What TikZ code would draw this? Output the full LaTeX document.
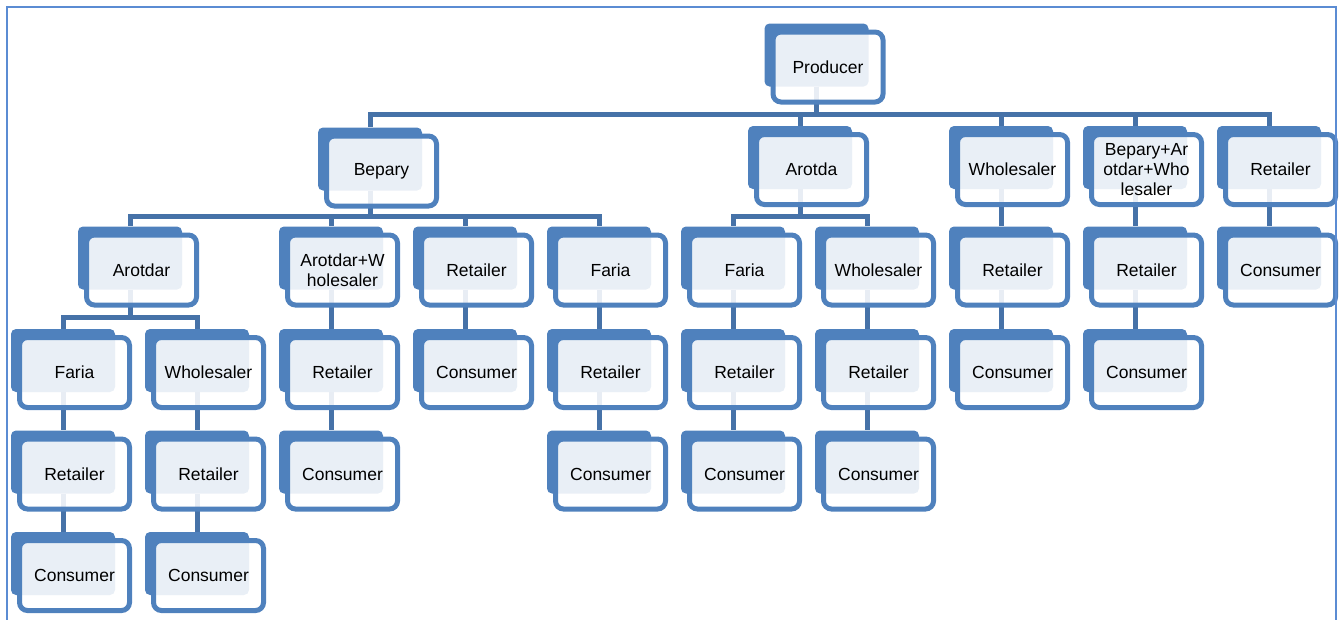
\documentclass[tikz,border=0pt]{standalone}
\usepackage{fontspec}
\setmainfont{Liberation Sans}
\pgfdeclarelayer{bg}
\pgfsetlayers{bg,main}
\definecolor{boxblue}{HTML}{4F81BD}
\definecolor{connblue}{HTML}{4672A8}
\definecolor{framecol}{HTML}{5B8CD3}
\tikzset{
  backbox/.style={fill=boxblue, rounded corners=5pt, minimum width=104pt, minimum height=63pt, inner sep=0pt, draw=none},
  frontbox/.style={draw=boxblue, line width=5pt, fill=white, fill opacity=0.88, text opacity=1, rounded corners=8pt, minimum width=110pt, minimum height=70pt, inner sep=0pt, align=center, font=\fontsize{17.5}{20}\selectfont},
  conn/.style={draw=connblue, line width=5pt},
  framestyle/.style={draw=framecol, line width=2pt},
}
\newcommand\orgbox[4]{\node[backbox] (#1) at ({#2-11.5},{#3-12}) {}; \node[frontbox] (#1f) at (#2,#3) {#4};}
\newcommand\barconn[3]{\draw[conn] (#1.south) -- (#1.south |- 0,#2) -| (#3.north);}
\newcommand\vconn[2]{\draw[conn] (#1.south) -- (#2.north);}
\begin{document}
\begin{tikzpicture}[x=1pt,y=-1pt]
\useasboundingbox (0,0) rectangle (1344,619);
% level 0
\orgbox{prod}{828}{67}{Producer}
% level 1
\orgbox{bep}{381.5}{171}{Bepary}
\orgbox{aro}{811.5}{169.5}{Arotda}
\orgbox{whA}{1012.5}{169.5}{Wholesaler}
\orgbox{baw}{1146.5}{169.5}{Bepary+Ar\\otdar+Who\\lesaler}
\orgbox{reA}{1280.5}{169.5}{Retailer}
% level 2
\orgbox{ard}{141.5}{270}{Arotdar}
\orgbox{aw}{342.5}{270}{Arotdar+W\\holesaler}
\orgbox{reBa}{476.5}{270}{Retailer}
\orgbox{faBa}{610.5}{270}{Faria}
\orgbox{faBb}{744.5}{270}{Faria}
\orgbox{whB}{878.5}{270}{Wholesaler}
\orgbox{reBb}{1012.5}{270}{Retailer}
\orgbox{reBc}{1146.5}{270}{Retailer}
\orgbox{coB}{1280.5}{270}{Consumer}
% level 3
\orgbox{faC}{74.5}{372.5}{Faria}
\orgbox{whC}{208.5}{372.5}{Wholesaler}
\orgbox{reCa}{342.5}{372.5}{Retailer}
\orgbox{coCa}{476.5}{372.5}{Consumer}
\orgbox{reCb}{610.5}{372.5}{Retailer}
\orgbox{reCc}{744.5}{372.5}{Retailer}
\orgbox{reCd}{878.5}{372.5}{Retailer}
\orgbox{coCb}{1012.5}{372.5}{Consumer}
\orgbox{coCc}{1146.5}{372.5}{Consumer}
% level 4
\orgbox{reDa}{74.5}{474}{Retailer}
\orgbox{reDb}{208.5}{474}{Retailer}
\orgbox{coDa}{342.5}{474}{Consumer}
\orgbox{coDb}{610.5}{474}{Consumer}
\orgbox{coDc}{744.5}{474}{Consumer}
\orgbox{coDd}{878.5}{474}{Consumer}
% level 5
\orgbox{coEa}{74.5}{575.5}{Consumer}
\orgbox{coEb}{208.5}{575.5}{Consumer}
\begin{pgfonlayer}{bg}
\barconn{prod}{114}{bep}
\barconn{prod}{114}{aro}
\barconn{prod}{114}{whA}
\barconn{prod}{114}{baw}
\barconn{prod}{114}{reA}
\barconn{bep}{216}{ard}
\barconn{bep}{216}{aw}
\barconn{bep}{216}{reBa}
\barconn{bep}{216}{faBa}
\barconn{aro}{216}{faBb}
\barconn{aro}{216}{whB}
\vconn{whA}{reBb}
\vconn{baw}{reBc}
\vconn{reA}{coB}
\barconn{ard}{317}{faC}
\barconn{ard}{317}{whC}
\vconn{aw}{reCa}
\vconn{reBa}{coCa}
\vconn{faBa}{reCb}
\vconn{faBb}{reCc}
\vconn{whB}{reCd}
\vconn{reBb}{coCb}
\vconn{reBc}{coCc}
\vconn{faC}{reDa}
\vconn{whC}{reDb}
\vconn{reCa}{coDa}
\vconn{reCb}{coDb}
\vconn{reCc}{coDc}
\vconn{reCd}{coDd}
\vconn{reDa}{coEa}
\vconn{reDb}{coEb}
\end{pgfonlayer}
\draw[framestyle] (7,640) -- (7,7) -- (1336,7) -- (1336,640);
\end{tikzpicture}
\end{document}
